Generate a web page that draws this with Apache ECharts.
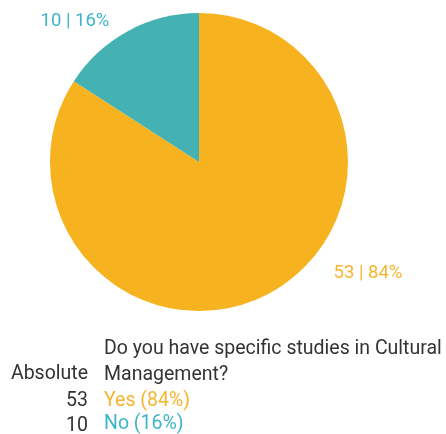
<!DOCTYPE html>
<html>
<head>
<meta charset="utf-8">
<script src="https://cdn.jsdelivr.net/npm/echarts@6/dist/echarts.min.js"></script>
<style>
html,body{margin:0;padding:0;background:#fff;}
#chart{width:446px;height:434px;}
</style>
</head>
<body>
<div id="chart"></div>
<script>
const categories = ['Yes', 'No'];
const values = [53, 10];
const questionTitle = 'Do you have specific studies in Cultural\nManagement?';
const columnHeader = 'Absolute';

const sliceColors = ['#F6B31F', '#44B1B2'];
const textColors = ['#F6B52E', '#3DB5C6'];
const labelAnchors = [[368, 273], [75, 21]];
const FONT = 'Roboto, "Noto Sans", sans-serif';
const FS = 19.5;
const rowY = [401, 426];

const total = values.reduce((a, b) => a + b, 0);
const pct = v => Math.round(v / total * 100);

const chart = echarts.init(document.getElementById('chart'), null, {renderer: 'canvas'});
chart.setOption({
  animation: false,
  title: [{
    text: questionTitle,
    left: 104,
    top: 336,
    padding: 0,
    textStyle: {fontFamily: FONT, fontSize: FS, fontWeight: 'normal', color: '#333333', lineHeight: 26}
  }],
  graphic: [{
    type: 'text',
    x: 88, y: 374,
    style: {text: columnHeader, font: FS + 'px ' + FONT, fill: '#333333', align: 'right', verticalAlign: 'middle'}
  }].concat(values.map((v, i) => ({
    type: 'text',
    x: 88, y: rowY[i],
    style: {text: String(v), font: FS + 'px ' + FONT, fill: '#333333', align: 'right', verticalAlign: 'middle'}
  }))),
  legend: {
    orient: 'vertical',
    left: 99,
    top: 389,
    width: 200,
    height: 80,
    padding: 0,
    itemGap: 1,
    icon: 'none',
    itemWidth: 0,
    itemHeight: 24,
    selectedMode: false,
    data: categories.map((c, i) => ({name: c, textStyle: {color: textColors[i]}})),
    formatter: name => {
      const i = categories.indexOf(name);
      return name + ' (' + pct(values[i]) + '%)';
    },
    textStyle: {fontFamily: FONT, fontSize: FS}
  },
  series: [{
    type: 'pie',
    center: [199, 162],
    radius: [0, 149],
    startAngle: 90,
    clockwise: true,
    label: {
      show: true,
      position: 'outside',
      fontFamily: FONT,
      fontSize: 18.5,
      formatter: p => p.value + ' | ' + pct(p.value) + '%'
    },
    labelLine: {show: false},
    labelLayout: p => ({
      x: labelAnchors[p.dataIndex][0],
      y: labelAnchors[p.dataIndex][1],
      align: 'center',
      verticalAlign: 'middle'
    }),
    emphasis: {disabled: true},
    itemStyle: {borderWidth: 0},
    data: categories.map((c, i) => ({
      name: c,
      value: values[i],
      itemStyle: {color: sliceColors[i]},
      label: {color: textColors[i]}
    }))
  }]
});
</script>
</body>
</html>
